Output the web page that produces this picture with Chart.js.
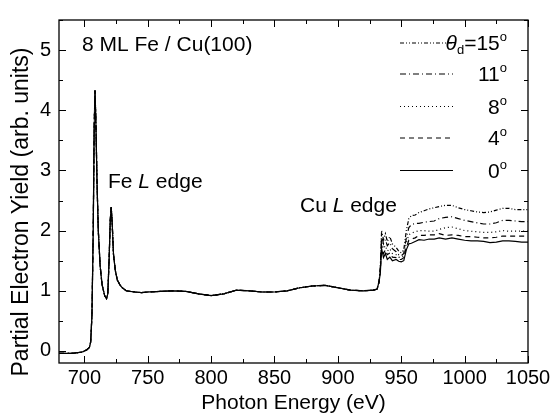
<!DOCTYPE html>
<html>
<head>
<meta charset="utf-8">
<script src="https://cdn.jsdelivr.net/npm/chart.js@4.4.1/dist/chart.umd.min.js"></script>
<style>
  html, body { margin: 0; padding: 0; background: #fff; }
</style>
</head>
<body>
<canvas id="c" width="554" height="416"></canvas>
<script>
// Fe L edge region, all angles overlap here
const feEnergy = [680, 690, 698, 702, 704, 705, 706, 707, 707.8, 708.4, 709, 710, 711, 712.5, 714, 716, 717.5, 718.5, 719.5, 720.5, 721.2, 722, 723, 724.5, 726, 728, 730, 733, 736, 740, 745, 750, 760, 770, 780, 790, 800, 810, 820, 830, 840, 850, 860, 870, 880, 890, 900, 910, 920, 928, 931, 932.5];
const feYield = [-0.04, -0.04, -0.02, 0.02, 0.06, 0.15, 0.6, 2.0, 3.8, 4.33, 3.9, 2.8, 2.0, 1.4, 1.1, 0.92, 0.87, 0.95, 1.5, 2.2, 2.39, 2.1, 1.6, 1.33, 1.18, 1.1, 1.05, 1.0, 0.99, 0.98, 0.97, 0.98, 0.99, 1.0, 0.99, 0.95, 0.92, 0.95, 1.01, 1.0, 0.98, 0.98, 1.0, 1.05, 1.08, 1.09, 1.05, 1.01, 1.0, 1.01, 1.03, 1.15];

// Cu L edge region, one list per detection angle
const cuEnergy = [933.5, 934.5, 936, 937.5, 939, 941, 943, 946, 948, 950, 952, 954, 956, 958, 961, 964, 968, 972, 976, 980, 985, 990, 995, 1000, 1005, 1010, 1015, 1020, 1025, 1030, 1035, 1040, 1045, 1050];
const cu15 = [1.4, 2.0, 1.85, 1.95, 1.82, 1.9, 1.78, 1.72, 1.66, 1.63, 1.68, 2.0, 2.2, 2.25, 2.26, 2.3, 2.33, 2.36, 2.38, 2.40, 2.42, 2.42, 2.38, 2.35, 2.33, 2.31, 2.30, 2.31, 2.34, 2.37, 2.37, 2.35, 2.35, 2.35];
const cu11 = [1.4, 1.92, 1.78, 1.85, 1.75, 1.8, 1.7, 1.65, 1.6, 1.58, 1.62, 1.88, 2.05, 2.1, 2.12, 2.12, 2.14, 2.15, 2.16, 2.2, 2.22, 2.23, 2.2, 2.17, 2.15, 2.13, 2.11, 2.11, 2.13, 2.17, 2.17, 2.16, 2.15, 2.15];
const cu8 = [1.35, 1.82, 1.7, 1.75, 1.66, 1.7, 1.62, 1.6, 1.56, 1.55, 1.58, 1.8, 1.93, 1.96, 1.98, 2.0, 2.0, 1.99, 1.99, 2.02, 2.05, 2.06, 2.03, 2.0, 1.99, 1.98, 1.97, 1.97, 1.98, 2.0, 1.99, 1.99, 1.99, 1.99];
const cu4 = [1.32, 1.75, 1.62, 1.68, 1.6, 1.63, 1.56, 1.55, 1.52, 1.52, 1.55, 1.72, 1.84, 1.86, 1.88, 1.92, 1.92, 1.93, 1.93, 1.95, 1.92, 1.93, 1.92, 1.9, 1.9, 1.89, 1.88, 1.88, 1.89, 1.91, 1.91, 1.91, 1.91, 1.91];
const cu0 = [1.3, 1.7, 1.55, 1.62, 1.52, 1.56, 1.5, 1.52, 1.49, 1.48, 1.5, 1.68, 1.78, 1.79, 1.82, 1.85, 1.84, 1.86, 1.86, 1.88, 1.86, 1.88, 1.86, 1.84, 1.83, 1.83, 1.82, 1.8, 1.81, 1.83, 1.83, 1.82, 1.81, 1.81];

const angles = ["15", "11", "8", "4", "0"];
const cuSeries = [cu15, cu11, cu8, cu4, cu0];
const dashes = [[4, 2, 1, 2, 1, 2], [6, 3, 1, 3], [1, 3], [5, 4], []];

const xTicks = [700, 750, 800, 850, 900, 950, 1000, 1050];
const yTicks = [0, 1, 2, 3, 4, 5];

const FONT = "'Liberation Sans', Arial, Helvetica, sans-serif";

function points(cu) {
  const fe = feEnergy.map((x, i) => ({ x: x, y: feYield[i] }));
  return fe.concat(cuEnergy.map((x, i) => ({ x: x, y: cu[i] })));
}

const datasets = angles.map((a, i) => ({
  label: a,
  data: points(cuSeries[i]),
  borderColor: "#000",
  borderWidth: 1.2,
  borderDash: dashes[i],
  pointRadius: 0,
  tension: 0,
  fill: false
}));

// draw text made of pieces (normal / italic / sub / sup)
function drawPieces(ctx, pieces, x, y, align) {
  const widths = pieces.map(p => {
    ctx.font = p.font;
    return ctx.measureText(p.t).width;
  });
  const total = widths.reduce((s, w) => s + w, 0);
  let cx = align === "right" ? x - total : x;
  ctx.textBaseline = "alphabetic";
  ctx.textAlign = "left";
  pieces.forEach((p, i) => {
    ctx.font = p.font;
    ctx.fillText(p.t, cx, y + (p.dy || 0));
    cx += widths[i];
  });
}

const frame = {
  id: "frame",
  afterDraw(chart) {
    const { ctx, chartArea: a, scales: { x, y } } = chart;
    ctx.save();
    ctx.strokeStyle = "#000";
    ctx.lineWidth = 1.3;
    ctx.strokeRect(a.left, a.top, a.right - a.left, a.bottom - a.top);

    // inward ticks on all four sides
    ctx.lineWidth = 1;
    ctx.beginPath();
    for (let v = 700; v <= 1050; v += 25) {
      const px = Math.round(x.getPixelForValue(v)) + 0.5;
      const len = v % 50 === 0 ? 7 : 4;
      ctx.moveTo(px, a.bottom); ctx.lineTo(px, a.bottom - len);
      ctx.moveTo(px, a.top); ctx.lineTo(px, a.top + len);
    }
    for (let v = 0; v <= 5.5; v += 0.5) {
      const py = Math.round(y.getPixelForValue(v)) + 0.5;
      const len = v % 1 === 0 ? 7 : 4;
      ctx.moveTo(a.left, py); ctx.lineTo(a.left + len, py);
      ctx.moveTo(a.right, py); ctx.lineTo(a.right - len, py);
    }
    ctx.stroke();

    ctx.fillStyle = "#000";
    // y axis title
    ctx.save();
    ctx.translate(22, 212);
    ctx.rotate(-Math.PI / 2);
    ctx.font = "23px " + FONT;
    ctx.textAlign = "center";
    ctx.textBaseline = "middle";
    ctx.fillText("Partial Electron Yield (arb. units)", 0, 0);
    ctx.restore();

    // labels inside the plot
    const n = "21px " + FONT, it = "italic 21px " + FONT, sm = "13px " + FONT;
    drawPieces(ctx, [{ t: "8 ML Fe / Cu(100)", font: n }], 82, 51, "left");
    drawPieces(ctx, [{ t: "Fe ", font: n }, { t: "L", font: it }, { t: " edge", font: n }], 108, 188, "left");
    drawPieces(ctx, [{ t: "Cu ", font: n }, { t: "L", font: it }, { t: " edge", font: n }], 300, 212, "left");

    // legend
    const rowY = [43, 74, 106.5, 138, 170.5];
    chart.data.datasets.forEach((ds, i) => {
      const ly = rowY[i];
      ctx.strokeStyle = "#000";
      ctx.lineWidth = 1.2;
      ctx.setLineDash(ds.borderDash);
      ctx.beginPath();
      ctx.moveTo(400, ly); ctx.lineTo(453, ly);
      ctx.stroke();
      ctx.setLineDash([]);
      const pieces = [];
      if (i === 0) {
        pieces.push({ t: "\u03b8", font: it });
        pieces.push({ t: "d", font: sm, dy: 4 });
        pieces.push({ t: "=", font: n });
      }
      pieces.push({ t: ds.label, font: n });
      pieces.push({ t: "o", font: sm, dy: -9 });
      drawPieces(ctx, pieces, 507, ly + 7, "right");
    });
    ctx.restore();
  }
};

new Chart(document.getElementById("c"), {
  type: "line",
  data: { datasets: datasets },
  options: {
    responsive: false,
    animation: false,
    layout: { padding: { top: 15, right: 26, left: 0, bottom: 0 } },
    plugins: { legend: { display: false }, tooltip: { enabled: false } },
    scales: {
      x: {
        type: "linear",
        min: 680,
        max: 1050,
        afterBuildTicks: s => { s.ticks = xTicks.map(v => ({ value: v })); },
        afterFit: s => { s.height = 53; },
        grid: { display: false, drawTicks: false },
        border: { display: false },
        ticks: { color: "#000", padding: 3, maxRotation: 0, font: { family: FONT, size: 20 }, callback: v => String(v) },
        title: { display: true, text: "Photon Energy (eV)", color: "#000", padding: { top: 0, bottom: 0 }, font: { family: FONT, size: 21 } }
      },
      y: {
        min: -0.2,
        max: 5.5,
        afterBuildTicks: s => { s.ticks = yTicks.map(v => ({ value: v })); },
        afterFit: s => { s.width = 59; },
        grid: { display: false, drawTicks: false },
        border: { display: false },
        ticks: { color: "#000", padding: 8, font: { family: FONT, size: 20 } },
        title: { display: false }
      }
    }
  },
  plugins: [frame]
});
</script>
</body>
</html>
